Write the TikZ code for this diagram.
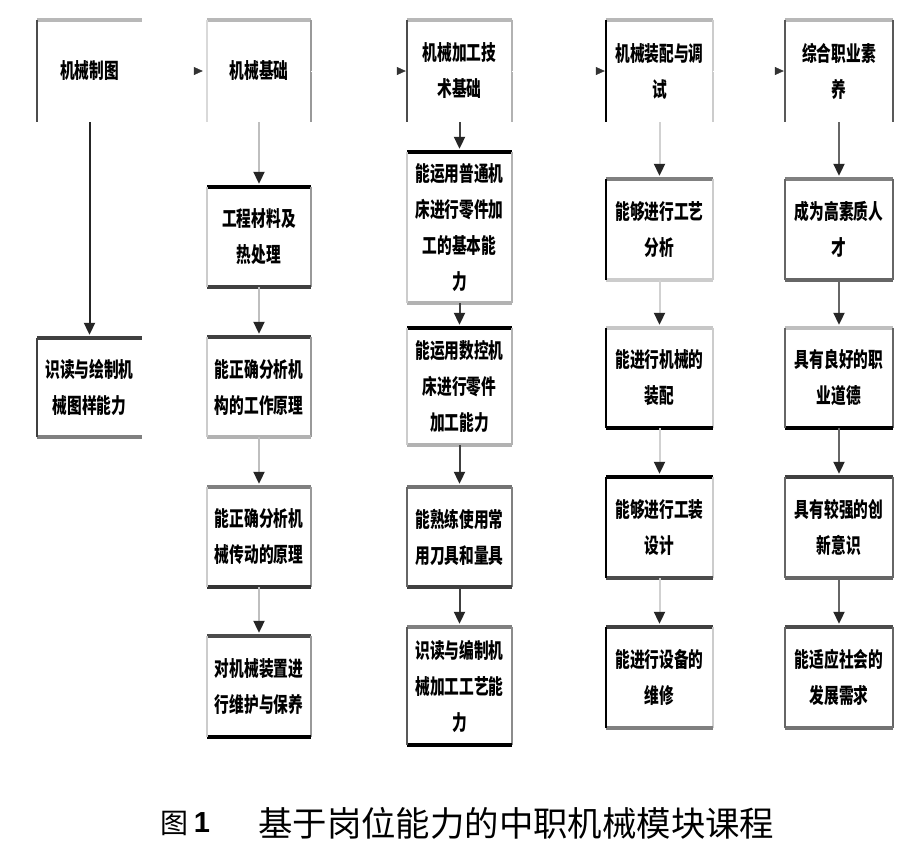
\documentclass[tikz,border=0pt]{standalone}
\usepackage{fontspec}
\newfontfamily\bxfont[FakeStretch=0.7]{Noto Sans CJK SC}
\newfontfamily\capfont{Noto Sans CJK SC}
\newfontfamily\numfont{Liberation Sans}
\usetikzlibrary{arrows.meta}
\tikzset{
  box/.style={draw=none, inner sep=0pt, align=center,
    font=\bxfont\bfseries\fontsize{21}{36}\selectfont},
  hline/.style={line width=3.5pt},
  vline/.style={line width=2pt},
  conn/.style={line width=2pt, shorten >=3pt,
    -{Triangle[width=11pt,length=12pt,color=black!85]}},
  hconn/.style={draw=white, line width=0.5pt,
    -{Triangle[width=8pt,length=9pt,color=black!80]}}
}
\newcommand\mkbox[6]{%
  \node[box, minimum width={(#3-#2)*1pt}, minimum height={(#5-#4)*1pt}]
    (#1) at ({(#2+#3)/2},{(#4+#5)/2}) {#6};}
\newcommand\mksides[5]{%
  \draw[hline,draw=#2] (#1.north west) -- (#1.north east);
  \draw[vline,draw=#3] (#1.north east) -- (#1.south east);
  \draw[hline,draw=#4] (#1.south west) -- (#1.south east);
  \draw[vline,draw=#5] (#1.north west) -- (#1.south west);}
\begin{document}
\begin{tikzpicture}[x=1pt,y=-1pt]
\useasboundingbox[fill=white] (0,0) rectangle (912,841);

% column 1
\mkbox{T1}{37}{142}{20}{122}{机械制图}
\mksides{T1}{black!28}{none}{none}{black!70}
\mkbox{B1}{37}{142}{338}{437}{识读与绘制机\\械图样能力}
\mksides{B1}{black!75}{none}{black!50}{black!75}

% column 2
\mkbox{T2}{207}{311}{20}{122}{机械基础}
\mksides{T2}{black!28}{black!40}{none}{black!15}
\mkbox{A2}{207}{311}{187}{287}{工程材料及\\热处理}
\mksides{A2}{black}{black!40}{black!75}{black!20}
\mkbox{B2}{207}{311}{337}{437}{能正确分析机\\构的工作原理}
\mksides{B2}{black!75}{black!40}{black!30}{black!20}
\mkbox{C2}{207}{311}{487}{587}{能正确分析机\\械传动的原理}
\mksides{C2}{black!50}{black!40}{black!80}{black!20}
\mkbox{D2}{207}{311}{636}{737}{对机械装置进\\行维护与保养}
\mksides{D2}{black!70}{black!40}{black}{black!20}

% column 3
\mkbox{T3}{407}{512}{20}{122}{机械加工技\\术基础}
\mksides{T3}{black!28}{black!30}{none}{black!70}
\mkbox{A3}{407}{512}{152}{303}{能运用普通机\\床进行零件加\\工的基本能\\力}
\mksides{A3}{black}{black!30}{black!30}{black!20}
\mkbox{B3}{407}{512}{328}{445}{能运用数控机\\床进行零件\\加工能力}
\mksides{B3}{black}{black!30}{black!30}{black!20}
\mkbox{C3}{407}{512}{487}{587}{能熟练使用常\\用刀具和量具}
\mksides{C3}{black!55}{black!50}{black!75}{black!60}
\mkbox{D3}{407}{512}{627}{745}{识读与编制机\\械加工工艺能\\力}
\mksides{D3}{black!50}{black!45}{black}{black!65}

% column 4
\mkbox{T4}{606}{713}{20}{122}{机械装配与调\\试}
\mksides{T4}{black!28}{black!20}{none}{black}
\mkbox{A4}{606}{713}{179}{280}{能够进行工艺\\分析}
\mksides{A4}{black!50}{black!20}{black!20}{black}
\mkbox{B4}{606}{713}{328}{428}{能进行机械的\\装配}
\mksides{B4}{black!22}{black!20}{black}{black}
\mkbox{C4}{606}{713}{477}{578}{能够进行工装\\设计}
\mksides{C4}{black}{black!20}{black!70}{black}
\mkbox{D4}{606}{713}{627}{728}{能进行设备的\\维修}
\mksides{D4}{black!75}{black!20}{black!50}{black}

% column 5
\mkbox{T5}{785}{893}{20}{122}{综合职业素\\养}
\mksides{T5}{black!28}{black!65}{none}{black!65}
\mkbox{A5}{785}{893}{179}{280}{成为高素质人\\才}
\mksides{A5}{black!50}{black!60}{black!60}{black!60}
\mkbox{B5}{785}{893}{328}{428}{具有良好的职\\业道德}
\mksides{B5}{black!25}{black!60}{black}{black!60}
\mkbox{C5}{785}{893}{477}{578}{具有较强的创\\新意识}
\mksides{C5}{black!75}{black!60}{black!60}{black!60}
\mkbox{D5}{785}{893}{627}{728}{能适应社会的\\发展需求}
\mksides{D5}{black!70}{black!60}{black!55}{black!60}

% vertical connectors
\draw[conn, black!85] (T1.south) -- (B1.north);
\draw[conn, black!25] (T2.south) -- (A2.north);
\draw[conn, black!25] (A2.south) -- (B2.north);
\draw[conn, black!25] (B2.south) -- (C2.north);
\draw[conn, black!25] (C2.south) -- (D2.north);
\draw[conn, black!75] (T3.south) -- (A3.north);
\draw[conn, black!75] (A3.south) -- (B3.north);
\draw[conn, black!75] (B3.south) -- (C3.north);
\draw[conn, black!75] (C3.south) -- (D3.north);
\draw[conn, black!18] (T4.south) -- (A4.north);
\draw[conn, black!18] (A4.south) -- (B4.north);
\draw[conn, black!18] (B4.south) -- (C4.north);
\draw[conn, black!18] (C4.south) -- (D4.north);
\draw[conn, black!60] (T5.south) -- (A5.north);
\draw[conn, black!60] (A5.south) -- (B5.north);
\draw[conn, black!60] (B5.south) -- (C5.north);
\draw[conn, black!60] (C5.south) -- (D5.north);

% horizontal arrow tips between top boxes
\draw[hconn, shorten >=4pt] (T1.east) -- (T2.west);
\draw[hconn, shorten >=1pt] (T2.east) -- (T3.west);
\draw[hconn, shorten >=1pt] (T3.east) -- (T4.west);
\draw[hconn, shorten >=1pt] (T4.east) -- (T5.west);

% caption
\node[font=\capfont\fontsize{28}{28}\selectfont] (fig) at (174,823) {图};
\node[font=\numfont\bfseries\fontsize{29}{29}\selectfont] (num) at (202,823) {1};
\node[font=\capfont\fontsize{34.4}{34.4}\selectfont, anchor=west, inner sep=0pt] (cap) at (258,823) {基于岗位能力的中职机械模块课程};
\end{tikzpicture}
\end{document}
